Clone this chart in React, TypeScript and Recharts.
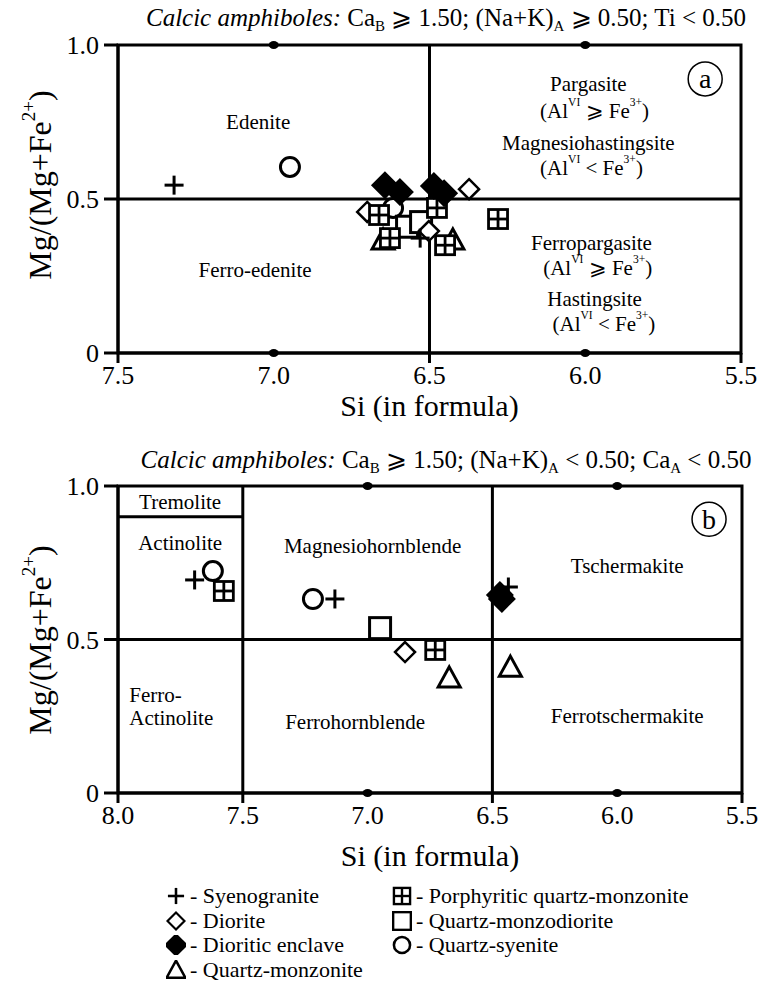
import React from "react";
import {
  ScatterChart,
  Scatter,
  XAxis,
  YAxis,
  ReferenceLine,
  ReferenceArea,
  ReferenceDot,
  Label,
} from "recharts";

type Pt = { si: number; mg: number };
type Seg = { t: string; sup?: boolean };

const SERIF = '"Liberation Serif", "Times New Roman", "DejaVu Serif", serif';
const INK = "#000";

// ---- panel (a): (Na+K)A >= 0.50 ----
const syenograniteA: Pt[] = [{ si: 7.32, mg: 0.545 }, { si: 6.53, mg: 0.373 }];
const dioriteA: Pt[] = [{ si: 6.373, mg: 0.532 }, { si: 6.7, mg: 0.458 }, { si: 6.502, mg: 0.396 }];
const enclaveA: Pt[] = [
  { si: 6.643, mg: 0.545 },
  { si: 6.595, mg: 0.523 },
  { si: 6.486, mg: 0.542 },
  { si: 6.453, mg: 0.519 },
];
const qzMonzoniteA: Pt[] = [{ si: 6.649, mg: 0.367 }, { si: 6.425, mg: 0.367 }];
const porphyriticA: Pt[] = [
  { si: 6.28, mg: 0.435 },
  { si: 6.476, mg: 0.471 },
  { si: 6.662, mg: 0.448 },
  { si: 6.627, mg: 0.373 },
  { si: 6.45, mg: 0.35 },
];
const qzMonzodioriteA: Pt[] = [{ si: 6.572, mg: 0.41 }, { si: 6.527, mg: 0.425 }];
const qzSyeniteA: Pt[] = [{ si: 6.948, mg: 0.604 }, { si: 6.617, mg: 0.471 }];

// ---- panel (b): (Na+K)A < 0.50 ----
const syenograniteB: Pt[] = [{ si: 7.693, mg: 0.694 }, { si: 7.131, mg: 0.632 }, { si: 6.436, mg: 0.671 }];
const dioriteB: Pt[] = [{ si: 6.85, mg: 0.459 }];
const enclaveB: Pt[] = [{ si: 6.47, mg: 0.645 }, { si: 6.462, mg: 0.632 }];
const qzMonzoniteB: Pt[] = [{ si: 6.673, mg: 0.375 }, { si: 6.428, mg: 0.41 }];
const porphyriticB: Pt[] = [{ si: 7.576, mg: 0.658 }, { si: 6.729, mg: 0.466 }];
const qzMonzodioriteB: Pt[] = [{ si: 6.95, mg: 0.537 }];
const qzSyeniteB: Pt[] = [{ si: 7.62, mg: 0.723 }, { si: 7.219, mg: 0.632 }];

const ticksA = [7.5, 7.0, 6.5, 6.0, 5.5];
const ticksB = [8.0, 7.5, 7.0, 6.5, 6.0, 5.5];
const yTicks = [0, 0.5, 1];

// ---- markers ----
type MP = { cx: number; cy: number; s?: number };

const PlusMark = ({ cx, cy, s = 1 }: MP) => (
  <g stroke={INK} strokeWidth={3 * s}>
    <line x1={cx - 9.5 * s} x2={cx + 9.5 * s} y1={cy} y2={cy} />
    <line x1={cx} x2={cx} y1={cy - 9.5 * s} y2={cy + 9.5 * s} />
  </g>
);
const OpenDiamond = ({ cx, cy, s = 1 }: MP) => {
  const r = 10 * s;
  return (
    <polygon
      points={`${cx},${cy - r} ${cx + r},${cy} ${cx},${cy + r} ${cx - r},${cy}`}
      fill="#fff"
      stroke={INK}
      strokeWidth={2.5 * s}
    />
  );
};
const FilledDiamond = ({ cx, cy, s = 1 }: MP) => {
  const r = 14 * s;
  return <polygon points={`${cx},${cy - r} ${cx + r},${cy} ${cx},${cy + r} ${cx - r},${cy}`} fill={INK} />;
};
const TriangleMark = ({ cx, cy, s = 1 }: MP) => (
  <polygon
    points={`${cx},${cy - 11 * s} ${cx + 11 * s},${cy + 9 * s} ${cx - 11 * s},${cy + 9 * s}`}
    fill="#fff"
    stroke={INK}
    strokeWidth={3 * s}
  />
);
const BoxPlus = ({ cx, cy, s = 1 }: MP) => {
  const h = 9.5 * s;
  return (
    <g stroke={INK} strokeWidth={2.8 * s} fill="#fff">
      <rect x={cx - h} y={cy - h} width={2 * h} height={2 * h} />
      <line x1={cx - h} x2={cx + h} y1={cy} y2={cy} />
      <line x1={cx} x2={cx} y1={cy - h} y2={cy + h} />
    </g>
  );
};
const SquareMark = ({ cx, cy, s = 1 }: MP) => (
  <rect x={cx - 10.5 * s} y={cy - 10.5 * s} width={21 * s} height={21 * s} fill="#fff" stroke={INK} strokeWidth={3 * s} />
);
const CircleMark = ({ cx, cy, s = 1 }: MP) => (
  <circle cx={cx} cy={cy} r={9.5 * s} fill="#fff" stroke={INK} strokeWidth={3 * s} />
);

type RockKey =
  | "syenogranite"
  | "diorite"
  | "enclave"
  | "qzMonzonite"
  | "porphyritic"
  | "qzMonzodiorite"
  | "qzSyenite";

const rocks: { key: RockKey; name: string; Mark: (p: MP) => React.ReactElement }[] = [
  { key: "syenogranite", name: "Syenogranite", Mark: PlusMark },
  { key: "diorite", name: "Diorite", Mark: OpenDiamond },
  { key: "enclave", name: "Dioritic enclave", Mark: FilledDiamond },
  { key: "qzMonzonite", name: "Quartz-monzonite", Mark: TriangleMark },
  { key: "porphyritic", name: "Porphyritic quartz-monzonite", Mark: BoxPlus },
  { key: "qzMonzodiorite", name: "Quartz-monzodiorite", Mark: SquareMark },
  { key: "qzSyenite", name: "Quartz-syenite", Mark: CircleMark },
];

// back-to-front drawing order
const drawOrder: RockKey[] = [
  "qzSyenite",
  "qzMonzodiorite",
  "qzMonzonite",
  "diorite",
  "porphyritic",
  "syenogranite",
  "enclave",
];

// ---- rich text with superscripts ----
const t = (s: string): Seg => ({ t: s });
const sup = (s: string): Seg => ({ t: s, sup: true });
const alGe: Seg[] = [t("(Al"), sup("VI"), t(" ⩾ Fe"), sup("3+"), t(")")];
const alLt: Seg[] = [t("(Al"), sup("VI"), t(" < Fe"), sup("3+"), t(")")];

function Rich({ x, y, parts, size, anchor = "middle" }: { x: number; y: number; parts: Seg[]; size: number; anchor?: string }) {
  let raised = false;
  const shift = size * 0.42;
  const spans = parts.map((p, i) => {
    let dy: number | undefined;
    if (p.sup && !raised) {
      dy = -shift;
      raised = true;
    } else if (!p.sup && raised) {
      dy = shift;
      raised = false;
    }
    return (
      <tspan key={i} dy={dy} fontSize={p.sup ? size * 0.55 : size}>
        {p.t}
      </tspan>
    );
  });
  return (
    <text x={x} y={y} textAnchor={anchor as any} dominantBaseline="central" fontFamily={SERIF} fontSize={size} fill={INK}>
      {spans}
    </text>
  );
}

type Note = { si: number; mg: number; parts: Seg[]; anchor?: string };

const notesA: Note[] = [
  { si: 7.05, mg: 0.751, parts: [t("Edenite")] },
  { si: 7.06, mg: 0.269, parts: [t("Ferro-edenite")] },
  { si: 5.99, mg: 0.875, parts: [t("Pargasite")] },
  { si: 5.97, mg: 0.786, parts: alGe },
  { si: 5.99, mg: 0.682, parts: [t("Magnesiohastingsite")] },
  { si: 5.98, mg: 0.601, parts: alLt },
  { si: 5.98, mg: 0.358, parts: [t("Ferropargasite")] },
  { si: 5.96, mg: 0.276, parts: alGe },
  { si: 5.97, mg: 0.175, parts: [t("Hastingsite")] },
  { si: 5.94, mg: 0.094, parts: alLt },
];

const notesB: Note[] = [
  { si: 7.751, mg: 0.948, parts: [t("Tremolite")] },
  { si: 7.751, mg: 0.814, parts: [t("Actinolite")] },
  { si: 6.98, mg: 0.805, parts: [t("Magnesiohornblende")] },
  { si: 5.96, mg: 0.739, parts: [t("Tschermakite")] },
  { si: 7.955, mg: 0.319, parts: [t("Ferro-")], anchor: "start" },
  { si: 7.955, mg: 0.244, parts: [t("Actinolite")], anchor: "start" },
  { si: 7.05, mg: 0.231, parts: [t("Ferrohornblende")] },
  { si: 5.96, mg: 0.251, parts: [t("Ferrotschermakite")] },
];

type PanelCfg = {
  data: Record<RockKey, Pt[]>;
  domain: [number, number];
  ticks: number[];
  tickMarks: number[];
  dots: number[];
  vLines: number[];
  notes: Note[];
  badge: { letter: string; si: number; mg: number };
  top: number;
  right: number;
  xTitleDy: number;
  yTitleY: number;
  tremolite?: boolean;
};

const panelA: PanelCfg = {
  data: {
    syenogranite: syenograniteA,
    diorite: dioriteA,
    enclave: enclaveA,
    qzMonzonite: qzMonzoniteA,
    porphyritic: porphyriticA,
    qzMonzodiorite: qzMonzodioriteA,
    qzSyenite: qzSyeniteA,
  },
  domain: [5.5, 7.5],
  ticks: ticksA,
  tickMarks: [7.5, 6.5, 5.5],
  dots: [7.0, 6.0],
  vLines: [6.5],
  notes: notesA,
  badge: { letter: "a", si: 5.615, mg: 0.89 },
  top: 45,
  right: 32,
  xTitleDy: 52,
  yTitleY: 185,
};

const panelB: PanelCfg = {
  data: {
    syenogranite: syenograniteB,
    diorite: dioriteB,
    enclave: enclaveB,
    qzMonzonite: qzMonzoniteB,
    porphyritic: porphyriticB,
    qzMonzodiorite: qzMonzodioriteB,
    qzSyenite: qzSyeniteB,
  },
  domain: [5.5, 8.0],
  ticks: ticksB,
  tickMarks: [8.0, 7.5, 6.5, 5.5],
  dots: [7.0, 6.0],
  vLines: [7.5, 6.5],
  notes: notesB,
  badge: { letter: "b", si: 5.632, mg: 0.892 },
  top: 46,
  right: 31,
  xTitleDy: 62,
  yTitleY: 200,
  tremolite: true,
};

function SiTick(props: any) {
  const { x, y, payload, marks } = props;
  const v = payload.value as number;
  return (
    <g>
      {marks.includes(v) && <line x1={x} x2={x} y1={y - 13} y2={y - 3} stroke={INK} strokeWidth={3} />}
      <text x={x} y={y} dy="0.71em" textAnchor="middle" fontFamily={SERIF} fontSize={26} fill={INK}>
        {v.toFixed(1)}
      </text>
    </g>
  );
}

function Panel({ cfg }: { cfg: PanelCfg }) {
  const [lo, hi] = cfg.domain;
  return (
    <ScatterChart width={773} height={440} margin={{ top: cfg.top, right: cfg.right, bottom: 27, left: 28 }}>
      <XAxis
        type="number"
        dataKey="si"
        domain={[lo, hi]}
        reversed
        ticks={cfg.ticks}
        interval={0}
        allowDataOverflow
        height={60}
        axisLine={{ stroke: INK, strokeWidth: 3 }}
        tickLine={{ stroke: "none" }}
        tickSize={10}
        tickMargin={3}
        tick={(p: any) => <SiTick {...p} marks={cfg.tickMarks} />}
      >
        <Label
          content={(p: any) => (
            <text
              x={p.viewBox.x + p.viewBox.width / 2}
              y={p.viewBox.y + cfg.xTitleDy}
              textAnchor="middle"
              dominantBaseline="central"
              fontFamily={SERIF}
              fontSize={30}
              fill={INK}
            >
              Si (in formula)
            </text>
          )}
        />
      </XAxis>
      <YAxis
        type="number"
        dataKey="mg"
        domain={[0, 1]}
        ticks={yTicks}
        interval={0}
        width={90}
        axisLine={{ stroke: INK, strokeWidth: 3 }}
        tickLine={{ stroke: INK, strokeWidth: 3 }}
        tickSize={14}
        tickMargin={5}
        tickFormatter={(v: number) => (v === 0 ? "0" : v.toFixed(1))}
        tick={{ fill: INK, fontSize: 26, fontFamily: SERIF }}
      >
        <Label
          content={() => (
            <text
              x={40}
              y={cfg.yTitleY}
              transform={`rotate(-90, 40, ${cfg.yTitleY})`}
              textAnchor="middle"
              dominantBaseline="central"
              fontFamily={SERIF}
              fontSize={32}
              fill={INK}
            >
              Mg/(Mg+Fe
              <tspan dy={-12} fontSize={19}>
                2+
              </tspan>
              <tspan dy={12}>)</tspan>
            </text>
          )}
        />
      </YAxis>

      {/* field boundaries */}
      <ReferenceLine y={0.5} stroke={INK} strokeWidth={3} />
      {cfg.vLines.map((v) => (
        <ReferenceLine key={v} x={v} stroke={INK} strokeWidth={3} />
      ))}
      {cfg.tremolite && (
        <ReferenceLine
          segment={[
            { x: 8.0, y: 0.9 },
            { x: 7.5, y: 0.9 },
          ]}
          stroke={INK}
          strokeWidth={3}
        />
      )}
      <ReferenceArea x1={lo} x2={hi} y1={0} y2={1} fill="none" stroke={INK} strokeWidth={3} />

      {/* minor marks on the frame */}
      {cfg.dots.flatMap((d) =>
        [0, 1].map((yy) => (
          <ReferenceDot
            key={`${d}-${yy}`}
            x={d}
            y={yy}
            r={4}
            shape={(p: any) => <ellipse cx={p.cx} cy={p.cy} rx={5} ry={4} fill={INK} />}
          />
        ))
      )}

      {cfg.notes.map((n, i) => (
        <ReferenceDot
          key={`n${i}`}
          x={n.si}
          y={n.mg}
          r={1}
          shape={(p: any) => <Rich x={p.cx} y={p.cy} parts={n.parts} size={21} anchor={n.anchor} />}
        />
      ))}

      <ReferenceDot
        x={cfg.badge.si}
        y={cfg.badge.mg}
        r={17}
        shape={(p: any) => (
          <g>
            <circle cx={p.cx} cy={p.cy} r={17} fill="#fff" stroke={INK} strokeWidth={1.5} />
            <text
              x={p.cx}
              y={p.cy}
              textAnchor="middle"
              dominantBaseline="central"
              fontFamily={SERIF}
              fontSize={28}
              fill={INK}
            >
              {cfg.badge.letter}
            </text>
          </g>
        )}
      />

      {drawOrder.map((k) => {
        const rock = rocks.find((r) => r.key === k)!;
        const M = rock.Mark;
        return (
          <Scatter
            key={k}
            name={rock.name}
            data={cfg.data[k]}
            isAnimationActive={false}
            shape={(p: any) => <M cx={p.cx} cy={p.cy} />}
          />
        );
      })}
    </ScatterChart>
  );
}

const subStyle: React.CSSProperties = { fontSize: "0.6em", verticalAlign: "-0.3em", lineHeight: 0 };

function Title({ top, children }: { top: number; children: React.ReactNode }) {
  return (
    <div
      style={{
        position: "absolute",
        top,
        left: 446,
        transform: "translateX(-50%)",
        whiteSpace: "nowrap",
        fontFamily: SERIF,
        fontSize: 25,
        lineHeight: "28px",
      }}
    >
      {children}
    </div>
  );
}

function LegendItem({ rock }: { rock: (typeof rocks)[number] }) {
  const M = rock.Mark;
  return (
    <div style={{ display: "flex", alignItems: "center", height: 24.5 }}>
      <svg width={20} height={20} style={{ marginRight: 4 }}>
        <M cx={10} cy={10} s={0.85} />
      </svg>
      <span>- {rock.name}</span>
    </div>
  );
}

export default function App() {
  const col1 = rocks.filter((r) => ["syenogranite", "diorite", "enclave", "qzMonzonite"].includes(r.key));
  const col2 = rocks.filter((r) => ["porphyritic", "qzMonzodiorite", "qzSyenite"].includes(r.key));
  return (
    <div style={{ position: "relative", width: 773, height: 986, background: "#fff", overflow: "hidden" }}>
      <style>{"body{margin:0}"}</style>
      <Title top={4}>
        <i>Calcic amphiboles:</i> Ca<span style={subStyle}>B</span> ⩾ 1.50; (Na+K)<span style={subStyle}>A</span> ⩾ 0.50; Ti
        &lt; 0.50
      </Title>
      <div style={{ position: "absolute", top: 0, left: 0 }}>
        <Panel cfg={panelA} />
      </div>
      <Title top={446}>
        <i>Calcic amphiboles:</i> Ca<span style={subStyle}>B</span> ⩾ 1.50; (Na+K)<span style={subStyle}>A</span> &lt; 0.50;
        Ca<span style={subStyle}>A</span> &lt; 0.50
      </Title>
      <div style={{ position: "absolute", top: 440, left: 0 }}>
        <Panel cfg={panelB} />
      </div>
      <div
        style={{
          position: "absolute",
          top: 884,
          left: 166,
          display: "flex",
          fontFamily: SERIF,
          fontSize: 22,
          lineHeight: "24px",
        }}
      >
        <div style={{ width: 226 }}>
          {col1.map((r) => (
            <LegendItem key={r.key} rock={r} />
          ))}
        </div>
        <div>
          {col2.map((r) => (
            <LegendItem key={r.key} rock={r} />
          ))}
        </div>
      </div>
    </div>
  );
}
